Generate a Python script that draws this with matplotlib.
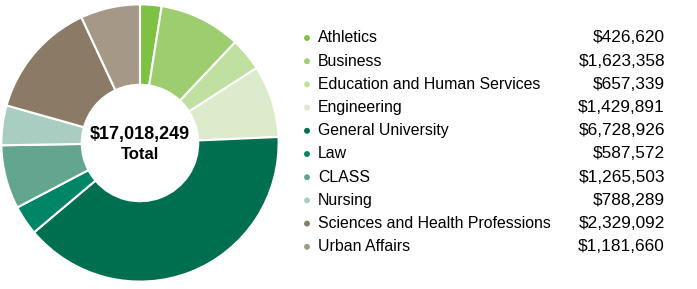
import matplotlib.pyplot as plt

colleges = ['Athletics', 'Business', 'Education and Human Services', 'Engineering',
            'General University', 'Law', 'CLASS', 'Nursing',
            'Sciences and Health Professions', 'Urban Affairs']
amounts = [426620, 1623358, 657339, 1429891, 6728926, 587572, 1265503, 788289, 2329092, 1181660]
total_label = '$17,018,249'
colors = ['#7dc242', '#9dcd6e', '#bfe0a0', '#dcebcc', '#006f4f',
          '#008566', '#63a58f', '#a9cdc1', '#8a7a66', '#a69886']

plt.rcParams['font.family'] = ['Liberation Sans Narrow', 'Liberation Sans', 'DejaVu Sans']

fig = plt.figure(figsize=(6.97, 2.89), dpi=100)

# donut
ax = fig.add_axes([0, 6 / 289, 280 / 697, 280 / 289])
ax.pie(amounts, colors=colors, startangle=90, counterclock=False,
       wedgeprops=dict(width=0.58, edgecolor='white', linewidth=1.5))
ax.set_xlim(-1.01, 1.01)
ax.set_ylim(-1.01, 1.01)
ax.set_aspect('equal')
ax.text(0, 0.06, total_label, ha='center', va='center', fontsize=13, fontweight='bold')
ax.text(0, -0.08, 'Total', ha='center', va='center', fontsize=12, fontweight='bold')

# legend drawn as a list
lx = fig.add_axes([0, 0, 1, 1])
lx.set_xlim(0, 697)
lx.set_ylim(289, 0)
lx.axis('off')
for i, (name, val, c) in enumerate(zip(colleges, amounts, colors)):
    y = 38 + i * 23.2
    lx.scatter(307, y, s=18, color=c, edgecolor='none')
    lx.text(318, y, name, va='center', ha='left', fontsize=11.4)
    lx.text(665, y, f'${val:,}', va='center', ha='right', fontsize=12.4)

fig.savefig('out.png', dpi=100)
